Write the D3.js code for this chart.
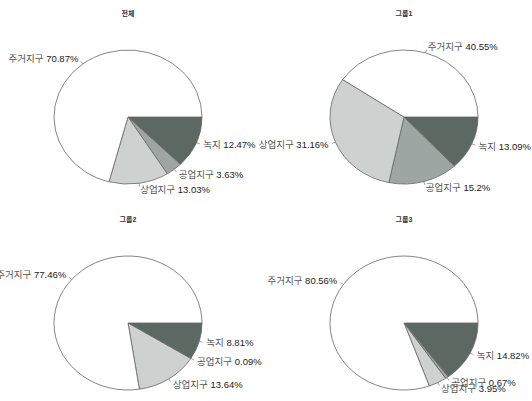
<!DOCTYPE html>
<html>
<head>
<meta charset="utf-8">
<script src="https://cdn.jsdelivr.net/npm/d3@7"></script>
<style>
  body { margin: 0; background: #fff; }
  svg text { font-family: "Liberation Sans", "Noto Sans CJK KR", sans-serif; }
</style>
</head>
<body>
<div id="container"></div>
<script>
'use strict';

const w = 532;
const h = 401;

// Data.
const groups = ['전체', '그룹1', '그룹2', '그룹3'];
const categories = ['녹지', '공업지구', '상업지구', '주거지구'];
const valuesAll = [12.47, 3.63, 13.03, 70.87];
const valuesG1 = [13.09, 15.2, 31.16, 40.55];
const valuesG2 = [8.81, 0.09, 13.64, 77.46];
const valuesG3 = [14.82, 0.67, 3.95, 80.56];
const groupValues = [valuesAll, valuesG1, valuesG2, valuesG3];

const colors = ['#5c6862', '#9ea6a3', '#cdd2d0', '#ffffff'];
const rx = 74;          // pie is drawn as an ellipse.
const ry = 67;
const titleY = [16, 222];

const svg = d3.select('#container')
    .append('svg')
    .attr('width', w)
    .attr('height', h);

// Grid of pies.
const colScale = d3.scalePoint().domain([0, 1]).range([128, 404]);
const rowScale = d3.scalePoint().domain([0, 1]).range([117, 323]);
const color = d3.scaleOrdinal().domain(categories).range(colors);

const pie = d3.pie()
    .sort(null)
    .startAngle(Math.PI / 2)
    .endAngle(Math.PI / 2 + 2 * Math.PI);

const arc = d3.arc().innerRadius(0).outerRadius(1);

groups.forEach((name, i) => {
    const row = Math.floor(i / 2);
    const cx = colScale(i % 2);
    const cy = rowScale(row);

    // Title.
    svg.append('text')
        .attr('x', cx)
        .attr('y', titleY[row])
        .attr('text-anchor', 'middle')
        .attr('font-size', 7)
        .attr('font-weight', 'bold')
        .attr('fill', '#333')
        .text(name);

    const g = svg.append('g').attr('transform', 'translate(' + cx + ',' + cy + ')');
    const data = categories.map((c, k) => ({ cat: c, value: groupValues[i][k] }));
    const arcs = pie.value(d => d.value)(data);

    // Slices.
    g.append('g')
        .attr('transform', 'scale(' + rx + ',' + ry + ')')
        .selectAll('path')
        .data(arcs)
        .enter()
        .append('path')
        .attr('d', arc)
        .attr('fill', d => color(d.data.cat))
        .attr('stroke', '#666')
        .attr('stroke-width', 0.8)
        .attr('vector-effect', 'non-scaling-stroke');

    // Labels with short leader lines.
    arcs.forEach(d => {
        const m = (d.startAngle + d.endAngle) / 2;
        const ux = Math.sin(m);
        const uy = -Math.cos(m);
        g.append('line')
            .attr('x1', ux * rx)
            .attr('y1', uy * ry)
            .attr('x2', ux * rx * 1.05)
            .attr('y2', uy * ry * 1.05)
            .attr('stroke', '#777')
            .attr('stroke-width', 0.7);
        const label = g.append('text')
            .attr('x', ux * rx * 1.1)
            .attr('y', uy * ry * 1.1)
            .attr('dy', '0.35em')
            .attr('text-anchor', ux < 0 ? 'end' : 'start')
            .attr('font-size', 9.5);
        label.append('tspan')
            .attr('fill', '#555')
            .text(d.data.cat + ' ');
        label.append('tspan')
            .attr('fill', '#222')
            .text(d.data.value + '%');
    });
});
</script>
</body>
</html>
